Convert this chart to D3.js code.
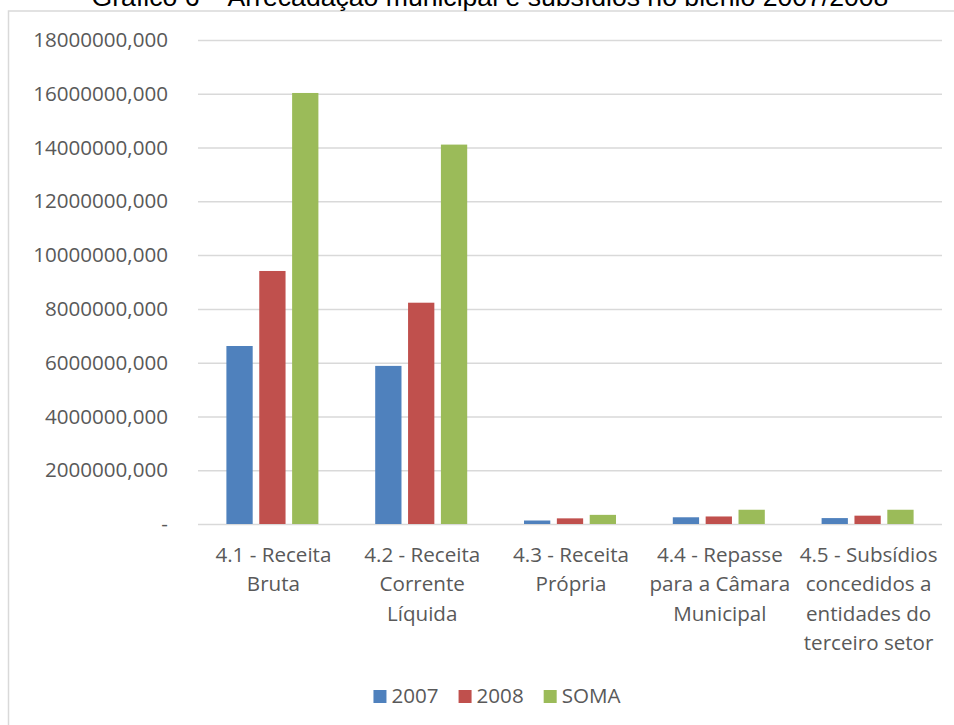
<!DOCTYPE html>
<html>
<head>
<meta charset="utf-8">
<script src="https://cdn.jsdelivr.net/npm/d3@7"></script>
<style>
  html, body { margin: 0; padding: 0; background: #fff; }
  svg { display: block; }
</style>
</head>
<body>
<svg id="chart" width="954" height="725"></svg>
<script>
// Categories (each entry is the wrapped label lines)
const categories = [
  ["4.1 - Receita", "Bruta"],
  ["4.2 - Receita", "Corrente", "Líquida"],
  ["4.3 - Receita", "Própria"],
  ["4.4 - Repasse", "para a Câmara", "Municipal"],
  ["4.5 - Subsídios", "concedidos a", "entidades do", "terceiro setor"]
];
const seriesNames = ["2007", "2008", "SOMA"];
const values2007 = [6620000, 5880000, 130000, 250000, 220000];
const values2008 = [9410000, 8230000, 210000, 280000, 310000];
const valuesSoma = [16030000, 14110000, 340000, 530000, 530000];
const yTicks = [0, 2000000, 4000000, 6000000, 8000000, 10000000, 12000000, 14000000, 16000000, 18000000];
const title = "Gráfico 6 – Arrecadação municipal e subsídios no biênio 2007/2008";

const colors = ["#4F81BD", "#C0504D", "#9BBB59"];
const seriesValues = [values2007, values2008, valuesSoma];

const svg = d3.select("#chart");
const W = 954, H = 725;
const margin = { left: 198, right: 12, top: 40, bottom: 201 };
const plotW = W - margin.left - margin.right;
const plotH = H - margin.top - margin.bottom;

const font = "Open Sans, Noto Sans, sans-serif";
const fontSize = 20.6;
const textColor = "#595959";

// chart frame
svg.append("rect")
  .attr("x", 8.5).attr("y", 11)
  .attr("width", W + 10).attr("height", H + 10)
  .attr("fill", "#fff").attr("stroke", "#D9D9D9").attr("stroke-width", 1.5);

// title, sitting above the frame edge
svg.append("text")
  .attr("x", 490).attr("y", 6)
  .attr("text-anchor", "middle")
  .attr("font-family", "Liberation Sans, Arial, sans-serif")
  .attr("font-size", 26.6)
  .attr("fill", "#000")
  .text(title);

const g = svg.append("g").attr("transform", `translate(${margin.left},${margin.top})`);

const y = d3.scaleLinear().domain([0, 18000000]).range([plotH, 0]);
const x0 = d3.scaleBand().domain(d3.range(categories.length)).range([0, plotW]).paddingInner(0).paddingOuter(0);
const groupW = 92;
const x1 = d3.scaleBand().domain(d3.range(seriesNames.length))
  .range([(x0.bandwidth() - groupW) / 2, (x0.bandwidth() + groupW) / 2])
  .paddingInner(0.2).paddingOuter(0);

// gridlines + labels via axis
const yAxis = d3.axisLeft(y)
  .tickValues(yTicks)
  .tickSize(-plotW)
  .tickFormat(d => d === 0 ? "-" : d3.format("d")(d) + ",000");

const ya = g.append("g").call(yAxis);
ya.select(".domain").remove();
ya.selectAll(".tick line").attr("stroke", "#D9D9D9").attr("stroke-width", 1.5);
ya.selectAll(".tick text")
  .attr("font-family", font)
  .attr("font-size", fontSize)
  .attr("fill", textColor)
  .attr("x", -30);

// bars
const groups = g.selectAll(".grp").data(categories).join("g")
  .attr("class", "grp")
  .attr("transform", (d, i) => `translate(${x0(i)},0)`);

groups.each(function (d, ci) {
  d3.select(this).selectAll("rect")
    .data(seriesValues.map((s, si) => ({ si, v: s[ci] })))
    .join("rect")
    .attr("x", e => x1(e.si))
    .attr("width", x1.bandwidth())
    .attr("y", e => y(e.v))
    .attr("height", e => plotH - y(e.v))
    .attr("fill", e => colors[e.si]);
});

// category labels
const lineH = 29.6;
groups.append("text")
  .attr("text-anchor", "middle")
  .attr("font-family", font)
  .attr("font-size", fontSize)
  .attr("fill", textColor)
  .each(function (lines) {
    const t = d3.select(this);
    lines.forEach((ln, k) => {
      t.append("tspan")
        .attr("x", x0.bandwidth() / 2 + 1)
        .attr("y", plotH + 37.5 + k * lineH)
        .text(ln);
    });
  });

// legend
const legend = svg.append("g");
const items = legend.selectAll("g").data(seriesNames).join("g");
items.append("rect").attr("width", 13).attr("height", 13).attr("y", -13)
  .attr("fill", (d, i) => colors[i]);
items.append("text").attr("x", 18).attr("y", 0)
  .attr("font-family", font).attr("font-size", fontSize).attr("fill", textColor)
  .text(d => d);
let cx = 0;
items.each(function () {
  const wdt = this.getBBox().width;
  d3.select(this).attr("transform", `translate(${cx},0)`);
  cx += wdt + 20;
});
const totalW = cx - 20;
legend.attr("transform", `translate(${497 - totalW / 2},${703})`);
</script>
</body>
</html>
